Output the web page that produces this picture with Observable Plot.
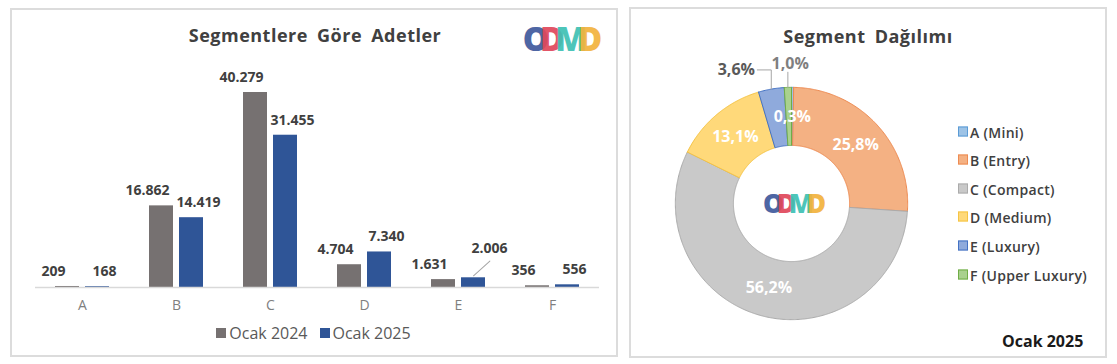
<!DOCTYPE html>
<html><head><meta charset="utf-8">
<script src="https://cdn.jsdelivr.net/npm/d3@7"></script>
<script src="https://cdn.jsdelivr.net/npm/@observablehq/plot@0.6"></script>
<style>
body{margin:0;background:#fff;width:1117px;height:364px;position:relative;overflow:hidden;font-family:"Open Sans",sans-serif;}
.panel{position:absolute;border:2px solid #dcdcdc;box-sizing:border-box;background:#fff;}
.abs{position:absolute;}
.title{position:absolute;font-weight:700;font-size:18px;color:#404040;white-space:nowrap;transform:translate(-50%,-50%);letter-spacing:0.5px;word-spacing:4px;}
.logo{position:absolute;font-family:"Open Sans",sans-serif;font-weight:800;white-space:nowrap;transform:translate(-50%,-50%);line-height:1;}
.logo span{opacity:0.92;}
#legL{position:absolute;left:10px;width:607px;top:322px;text-align:center;font-size:16px;color:#595959;white-space:nowrap;}
#legL .sw{display:inline-block;width:10px;height:10px;margin-right:3px;vertical-align:1px;}
#legR .row{position:absolute;left:958px;font-size:14px;font-weight:600;color:#404040;white-space:nowrap;transform:translateY(-50%);letter-spacing:0.3px;}
#legR .sw{display:inline-block;width:8px;height:8px;margin-right:2px;vertical-align:1px;border:1px solid;}
</style></head><body>
<div class="panel" style="left:10px;top:8px;width:608px;height:349px"></div>
<div class="panel" style="left:629px;top:7px;width:478px;height:351px"></div>
<div class="title" style="left:315px;top:35px">Segmentlere Göre Adetler</div>
<div class="title" style="left:868px;top:36px">Segment Dağılımı</div>
<div id="bars" class="abs" style="left:10px;top:60px"></div>
<div id="donut" class="abs" style="left:640px;top:52px"></div>
<div id="legL"></div>
<div id="legR"></div>
<div class="abs" style="left:1002px;top:330px;font-size:16px;font-weight:700;color:#1a1a1a;white-space:nowrap">Ocak 2025</div>
<script>
// ---- data ----
const segments = ["A","B","C","D","E","F"];
const segmentNames = ["A (Mini)","B (Entry)","C (Compact)","D (Medium)","E (Luxury)","F (Upper Luxury)"];
const years = ["Ocak 2024","Ocak 2025"];
const ocak2024 = [209,16862,40279,4704,1631,356];
const ocak2025 = [168,14419,31455,7340,2006,556];

// ---- styles ----
const yearColors = ["#767171","#2f5597"];
const sliceFill = ["#9dc3e6","#f4b183","#c9c9c9","#ffd97a","#8faadc","#a9d18e"];
const sliceStroke = ["#5b9bd5","#ee8b52","#ababab","#f5c445","#4472c4","#70ad47"];

const loc = d3.formatLocale({decimal:",", thousands:".", grouping:[3], currency:["",""]});
const fmtN = loc.format(",d");
const fmtP = loc.format(".1%");

const rows = segments.flatMap((s,i)=>[
  {segment:s, year:years[0], value:ocak2024[i]},
  {segment:s, year:years[1], value:ocak2025[i]}
]);
const is2024 = d=>d.year===years[0];
const isE25 = d=>d.year===years[1] && d.segment==="E";
const is2025 = d=>d.year===years[1] && d.segment!=="E";

const leader = {draw(ctx, l){ctx.moveTo(0,0);ctx.lineTo(0,-l);}};

const bars = Plot.plot({
  width:605, height:262, marginLeft:23, marginRight:15, marginTop:32, marginBottom:35,
  style:{fontFamily:"Open Sans", fontSize:"13px", color:"#7f7f7f", background:"transparent"},
  fx:{domain:segments, padding:0, label:null, axis:null},
  x:{domain:years, axis:null, paddingInner:6/31, paddingOuter:0.62},
  y:{domain:[0, d3.max(ocak2024)], axis:null},
  color:{domain:years, range:yearColors},
  marks:[
    Plot.barY(rows,{fx:"segment", x:"year", y:"value", fill:"year"}),
    Plot.ruleY([0],{stroke:"#d9d9d9", strokeWidth:1.5}),
    Plot.axisFx({anchor:"bottom", tickSize:0, tickPadding:13, fontSize:14, label:null}),
    Plot.text(rows.filter(is2024),{fx:"segment", x:"year", y:"value", text:d=>fmtN(d.value), dy:-15, dx:-14, fill:"#404040", fontWeight:"bold", fontSize:14}),
    Plot.text(rows.filter(is2025),{fx:"segment", x:"year", y:"value", text:d=>fmtN(d.value), dy:-15, dx:7, fill:"#404040", fontWeight:"bold", fontSize:14}),
    Plot.text(rows.filter(isE25),{fx:"segment", x:"year", y:"value", text:d=>fmtN(d.value), dy:-29, dx:16, fill:"#404040", fontWeight:"bold", fontSize:14}),
    Plot.vector(rows.filter(isE25),{fx:"segment", x:"year", y:"value", length:22, rotate:48, anchor:"start", dy:-2, shape:leader, stroke:"#a6a6a6", strokeWidth:1})
  ]
});
document.getElementById("bars").appendChild(bars);

// left legend
document.getElementById("legL").innerHTML = years.map((y,i)=>
  `<span style="margin:0 6px"><span class="sw" style="background:${yearColors[i]}"></span>${y}</span>`).join("");

// ---- donut ----
const total = d3.sum(ocak2025);
const arcs = d3.pie().sort(null).value(d=>d)(ocak2025);
const R0 = 0.5, R1 = 1;
const polar = (a,r)=>({x:r*Math.sin(a), y:r*Math.cos(a)});
const slicePts = arcs.map(a=>{
  const n = Math.max(2, Math.ceil((a.endAngle-a.startAngle)/0.01));
  const pts = [];
  for(let k=0;k<=n;k++) pts.push(polar(a.startAngle+(a.endAngle-a.startAngle)*k/n, R1));
  for(let k=n;k>=0;k--) pts.push(polar(a.startAngle+(a.endAngle-a.startAngle)*k/n, R0));
  pts.push(pts[0]);
  return pts;
});
const mid = a=>(a.startAngle+a.endAngle)/2;
const outside = {E:"left", F:"top"};
const inLabels = arcs.map((a,i)=>({...polar(mid(a),0.75), t:fmtP(ocak2025[i]/total), s:segments[i]})).filter(d=>!outside[d.s]);
const leftLab = arcs.map((a,i)=>({a, i})).filter(d=>outside[segments[d.i]]==="left");
const topLab = arcs.map((a,i)=>({a, i})).filter(d=>outside[segments[d.i]]==="top");
const leftLines = leftLab.flatMap(d=>{const p=polar(mid(d.a),R1); return [{...p,k:d.i},{x:p.x,y:1.15,k:d.i},{x:p.x-0.12,y:1.15,k:d.i}];});
const topLines = topLab.flatMap(d=>{const p=polar(mid(d.a),R1); return [{...p,k:d.i},{x:p.x,y:1.13,k:d.i}];});

const donut = Plot.plot({
  width:302, height:302, margin:0,
  style:{fontFamily:"Open Sans", background:"transparent"},
  x:{domain:[-1.3,1.3], axis:null},
  y:{domain:[-1.3,1.3], axis:null},
  marks:[
    ...slicePts.map((pts,i)=>Plot.line(pts,{x:"x", y:"y", fill:sliceFill[i], stroke:sliceStroke[i], strokeWidth:1})),
    Plot.text(inLabels,{x:"x", y:"y", text:"t", fill:"#fff", fontSize:16, fontWeight:"bold"}),
    Plot.line(leftLines,{x:"x", y:"y", z:"k", stroke:"#a6a6a6", strokeWidth:1}),
    Plot.line(topLines,{x:"x", y:"y", z:"k", stroke:"#a6a6a6", strokeWidth:1}),
    Plot.text(leftLab,{x:d=>polar(mid(d.a),R1).x-0.14, y:()=>1.15, text:d=>fmtP(ocak2025[d.i]/total), textAnchor:"end", fill:"#595959", fontSize:16, fontWeight:"bold"}),
    Plot.text(topLab,{x:d=>polar(mid(d.a),R1).x+0.02, y:()=>1.2, text:d=>fmtP(ocak2025[d.i]/total), fill:"#7f7f7f", fontSize:16, fontWeight:"bold"})
  ]
});
document.getElementById("donut").appendChild(donut);

// right legend
const legRowsY = [132,160,189,217,246,275];
document.getElementById("legR").innerHTML = segmentNames.map((n,i)=>
  `<div class="row" style="top:${legRowsY[i]}px"><span class="sw" style="background:${sliceFill[i]};border-color:${sliceStroke[i]}"></span>${n}</div>`).join("");

// logos
function logo(x,y,size,ls){
  const cols=["#3f5a9d","#e0475b","#3ec1b4","#f2b33d"];
  const el=document.createElement("div");
  el.className="logo";
  el.style.cssText=`left:${x}px;top:${y}px;font-size:${size}px;letter-spacing:${ls}px`;
  el.innerHTML=["O","D","M","D"].map((c,i)=>`<span style="color:${cols[i]}">${c}</span>`).join("");
  document.body.appendChild(el);
}
logo(558,38,33,-9);
logo(791,203,26,-7);
</script>
</body></html>
